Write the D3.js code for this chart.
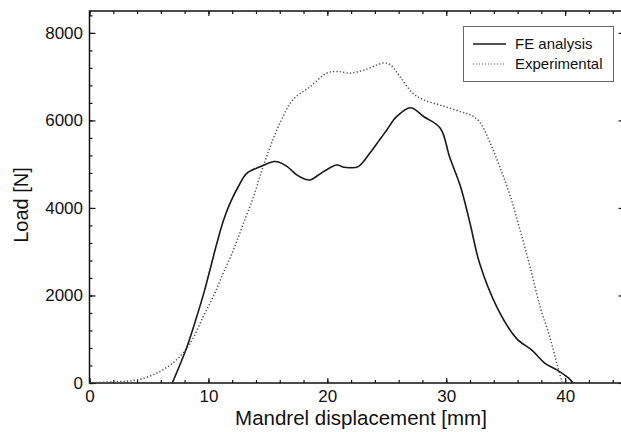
<!DOCTYPE html>
<html>
<head>
<meta charset="utf-8">
<script src="https://cdn.jsdelivr.net/npm/d3@7"></script>
<style>
  body { margin: 0; background: #fff; }
  svg { display: block; font-family: "Liberation Sans", Arial, sans-serif; }
</style>
</head>
<body>
<script>
// - Load vs mandrel displacement -

// Data
const feX = [6.96, 8.2, 9.0, 9.66, 10.22, 10.7, 11.25, 11.82, 12.52, 13.22, 14.34, 15.5, 15.9, 16.6, 17.4, 18.0, 18.55, 19.2, 19.8, 20.8, 21.4, 21.9, 22.6, 23.6, 24.4, 25.0, 25.8, 27.0, 28.1, 29.5, 30.3, 31.2, 32.0, 32.8, 34.25, 35.9, 37.2, 38.3, 39.3, 40.3, 40.65];
const feY = [0, 830, 1500, 2100, 2680, 3180, 3700, 4110, 4490, 4790, 4940, 5060, 5050, 4950, 4760, 4670, 4640, 4740, 4850, 4980, 4930, 4920, 4945, 5260, 5560, 5780, 6080, 6290, 6090, 5820, 5150, 4490, 3650, 2740, 1740, 1020, 750, 450, 300, 110, 0];

const expX = [0, 2, 4, 5.9, 7.3, 8.45, 9.57, 10.4, 11.25, 12.1, 12.95, 13.8, 14.5, 15.2, 16.0, 17.1, 18.55, 19.95, 20.8, 21.9, 23.3, 24.7, 25.3, 26.1, 27.2, 28.1, 29.5, 31.2, 32.0, 32.8, 33.7, 34.5, 35.4, 36.2, 37.05, 37.9, 38.7, 39.3, 39.75];
const expY = [0, 30, 70, 260, 525, 900, 1520, 1970, 2510, 3040, 3650, 4260, 4860, 5400, 5930, 6470, 6770, 7080, 7120, 7080, 7170, 7310, 7270, 7000, 6620, 6470, 6350, 6200, 6130, 5970, 5480, 4940, 4260, 3500, 2660, 1740, 1060, 450, 0];

const xMajor = [0, 10, 20, 30, 40];
const yMajor = [0, 2000, 4000, 6000, 8000];
const seriesNames = ["FE analysis", "Experimental"];

// Chart size
const w = 621,
      h = 432,
      pLeft = 89.5,
      pRight = 624.6,
      pTop = 11,
      pBottom = 383;

const x = d3.scaleLinear().domain([0, 45]).range([pLeft, pRight]);
const y = d3.scaleLinear().domain([0, 8500]).range([pBottom, pTop]);

const svg = d3.select("body")
              .append("svg")
              .attr("width", w)
              .attr("height", h);

// Ticks (inward on every side)
const xMinor = d3.range(0, 45, 2);
const yMinor = d3.range(0, 8500, 400);

function styleAxis(g) {
  g.selectAll(".domain").remove();
  g.selectAll("line").attr("stroke", "#111").attr("stroke-width", 1.2);
  g.selectAll("text").attr("fill", "#111").style("font-size", "17px");
}

svg.append("g").attr("transform", `translate(0,${pBottom})`)
   .call(d3.axisBottom(x).tickValues(xMajor).tickSize(-5).tickPadding(7).tickFormat(d3.format("d")))
   .call(styleAxis);
svg.append("g").attr("transform", `translate(0,${pBottom})`)
   .call(d3.axisBottom(x).tickValues(xMinor).tickSize(-3).tickFormat(""))
   .call(styleAxis);
svg.append("g").attr("transform", `translate(0,${pTop})`)
   .call(d3.axisTop(x).tickValues(xMajor).tickSize(-5).tickFormat(""))
   .call(styleAxis);
svg.append("g").attr("transform", `translate(0,${pTop})`)
   .call(d3.axisTop(x).tickValues(xMinor).tickSize(-3).tickFormat(""))
   .call(styleAxis);

svg.append("g").attr("transform", `translate(${pLeft},0)`)
   .call(d3.axisLeft(y).tickValues(yMajor).tickSize(-6).tickPadding(6.5).tickFormat(d3.format("d")))
   .call(styleAxis);
svg.append("g").attr("transform", `translate(${pLeft},0)`)
   .call(d3.axisLeft(y).tickValues(yMinor).tickSize(-3).tickFormat(""))
   .call(styleAxis);
svg.append("g").attr("transform", `translate(${pRight},0)`)
   .call(d3.axisRight(y).tickValues(yMajor).tickSize(-6).tickFormat(""))
   .call(styleAxis);
svg.append("g").attr("transform", `translate(${pRight},0)`)
   .call(d3.axisRight(y).tickValues(yMinor).tickSize(-3).tickFormat(""))
   .call(styleAxis);

// Frame
svg.append("rect")
   .attr("x", pLeft)
   .attr("y", pTop)
   .attr("width", pRight - pLeft)
   .attr("height", pBottom - pTop)
   .attr("fill", "none")
   .attr("stroke", "#111")
   .attr("stroke-width", 1.5);

// Lines
const line = d3.line()
               .x(d => x(d[0]))
               .y(d => y(d[1]))
               .curve(d3.curveCatmullRom.alpha(0.5));

svg.append("path")
   .datum(expX.map((v, i) => [v, expY[i]]))
   .attr("d", line)
   .attr("fill", "none")
   .attr("stroke", "#555")
   .attr("stroke-width", 1.5)
   .attr("stroke-dasharray", "1.3,2.1");

svg.append("path")
   .datum(feX.map((v, i) => [v, feY[i]]))
   .attr("d", line)
   .attr("fill", "none")
   .attr("stroke", "#1a1a1a")
   .attr("stroke-width", 1.6);

// Axis titles
svg.append("text")
   .attr("x", 361)
   .attr("y", 425)
   .attr("text-anchor", "middle")
   .style("font-size", "20.5px")
   .attr("fill", "#111")
   .text("Mandrel displacement [mm]");

svg.append("text")
   .attr("transform", "translate(28,205) rotate(-90)")
   .attr("text-anchor", "middle")
   .style("font-size", "20px")
   .attr("fill", "#111")
   .text("Load [N]");

// Legend
const legend = svg.append("g");

legend.append("rect")
      .attr("x", 463.5)
      .attr("y", 26.5)
      .attr("width", 150)
      .attr("height", 55)
      .attr("fill", "#fff")
      .attr("stroke", "#666")
      .attr("stroke-width", 1);

legend.selectAll("line")
      .data(seriesNames)
      .enter()
      .append("line")
      .attr("x1", 473)
      .attr("x2", 506)
      .attr("y1", (d, i) => 44 + i * 20)
      .attr("y2", (d, i) => 44 + i * 20)
      .attr("stroke", (d, i) => i ? "#555" : "#1a1a1a")
      .attr("stroke-width", (d, i) => i ? 1.2 : 1.6)
      .attr("stroke-dasharray", (d, i) => i ? "1,2" : null);

legend.selectAll("text")
      .data(seriesNames)
      .enter()
      .append("text")
      .attr("x", 515)
      .attr("y", (d, i) => 49 + i * 20)
      .style("font-size", "15px")
      .attr("fill", "#111")
      .text(d => d);
</script>
</body>
</html>
